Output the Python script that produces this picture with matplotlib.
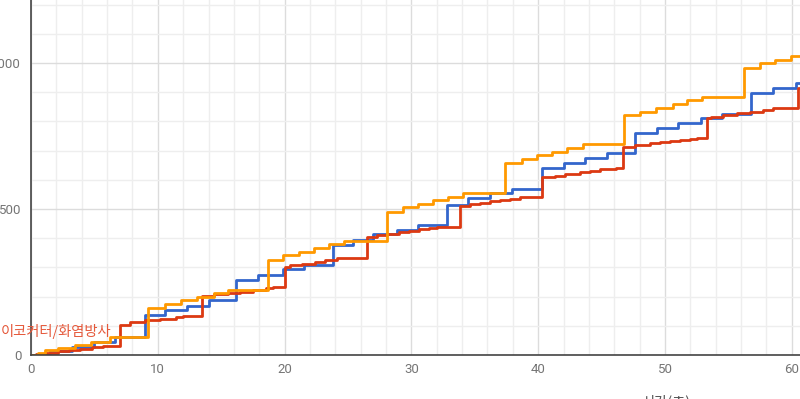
import matplotlib
matplotlib.use('Agg')
import matplotlib.pyplot as plt
from matplotlib.ticker import MultipleLocator

plt.rcParams['font.family'] = ['Roboto', 'Noto Sans CJK KR', 'DejaVu Sans']

# cumulative value vs time (s), step series
BLUE_T = [0, 1.1, 1.5, 3.2, 5.0, 6.6, 9.0, 10.6, 12.3, 14.0, 16.2, 17.9, 19.9,
          21.5, 23.8, 25.4, 27.0, 28.9, 30.5, 32.8, 34.5, 36.2, 37.9, 40.3,
          42.0, 43.7, 45.4, 47.6, 49.4, 51.0, 52.8, 54.5, 56.8, 58.5, 60.3, 62]
BLUE_V = [0, 5, 14, 27, 45, 62, 137, 154, 168, 188, 257, 274, 294,
          308, 377, 394, 414, 428, 445, 514, 537, 555, 568, 640,
          657, 674, 691, 760, 777, 794, 812, 825, 897, 914, 932, 932]

RED_T = [0, 0.4, 1.2, 2.1, 3.0, 3.9, 4.8, 5.7, 7.0, 7.8, 9.0, 10.2, 11.4,
         12.0, 13.5, 14.4, 15.5, 16.5, 17.5, 18.5, 19.1, 20.0, 20.4, 21.4,
         22.4, 23.2, 24.1, 26.5, 27.3, 28.1, 29.0, 29.8, 30.6, 31.4, 32.0,
         33.8, 34.6, 35.4, 36.2, 37.0, 37.8, 38.6, 40.3, 41.3, 42.1, 43.3,
         44.1, 44.9, 46.1, 46.7, 47.6, 48.8, 49.6, 50.4, 51.2, 52.0, 52.5,
         53.3, 53.6, 54.6, 55.7, 56.7, 57.7, 58.5, 60.5, 62]
RED_V = [0, 3, 8, 12, 17, 21, 26, 31, 103, 113, 120, 124, 130,
         134, 202, 209, 212, 216, 222, 228, 233, 301, 307, 312,
         318, 324, 332, 404, 411, 416, 421, 425, 430, 434, 438,
         510, 517, 521, 527, 531, 534, 541, 610, 613, 620, 627,
         630, 637, 640, 712, 719, 726, 729, 733, 736, 740, 743,
         812, 815, 822, 829, 832, 839, 846, 914, 914]

ORANGE_T = [0, 0.55, 1.1, 2.1, 3.5, 4.7, 6.2, 9.2, 10.6, 11.8, 13.1, 14.4,
            15.5, 18.7, 19.9, 21.1, 22.3, 23.5, 24.7, 28.1, 29.3, 30.5,
            31.7, 32.9, 34.1, 37.4, 38.7, 39.9, 41.1, 42.3, 43.5, 46.8,
            48.0, 49.3, 50.6, 51.7, 52.9, 56.2, 57.5, 58.7, 59.9, 62]
ORANGE_V = [0, 8, 16, 24, 34, 45, 62, 161, 175, 188, 199, 212,
            223, 325, 342, 353, 366, 380, 390, 490, 507, 517,
            531, 541, 555, 658, 671, 685, 695, 709, 723, 822,
            832, 846, 860, 873, 884, 983, 1000, 1010, 1024, 1024]

LABEL_TEXT = '이코커터/화염방사'
X_LABEL = '시간(초)'

fig = plt.figure(figsize=(8, 3.99), dpi=100)
ax = fig.add_axes([31 / 800, 44 / 399, 769 / 800, 355 / 399])

ax.step(BLUE_T, BLUE_V, where='post', color='#3366CC', lw=2.0, zorder=3)
ax.step(RED_T, RED_V, where='post', color='#DC3912', lw=2.0, zorder=4)
ax.step(ORANGE_T, ORANGE_V, where='post', color='#FF9900', lw=2.0, zorder=5)

ax.set_xlim(0, 769 / 12.68)
ax.set_ylim(0, 355 / 0.292)

ax.xaxis.set_major_locator(MultipleLocator(10))
ax.xaxis.set_minor_locator(MultipleLocator(2))
ax.yaxis.set_major_locator(MultipleLocator(500))
ax.yaxis.set_minor_locator(MultipleLocator(100))
ax.grid(which='major', color='#dcdcdc', lw=1.0, zorder=0)
ax.grid(which='minor', color='#eeeeee', lw=1.0, zorder=0)
ax.set_axisbelow(True)

for s in ('top', 'right'):
    ax.spines[s].set_visible(False)
for s in ('left', 'bottom'):
    ax.spines[s].set_color('#444444')
    ax.spines[s].set_linewidth(1.2)
    ax.spines[s].set_zorder(6)

ax.tick_params(which='both', length=0, colors='#757575', labelsize=9.5)
ax.tick_params(axis='y', pad=7)
ax.tick_params(axis='x', pad=6)

ax.text(-2.4, 82, LABEL_TEXT, color='#E5583A', fontsize=10.3,
        family=['Noto Sans CJK KR', 'DejaVu Sans'],
        ha='left', va='center', clip_on=False, zorder=7)

fig.text(666 / 800, 1 - 394 / 399, X_LABEL, color='#555555', fontsize=10.3,
         family=['Noto Sans CJK KR', 'DejaVu Sans'], ha='center', va='top')

fig.savefig('out.png', dpi=100)
